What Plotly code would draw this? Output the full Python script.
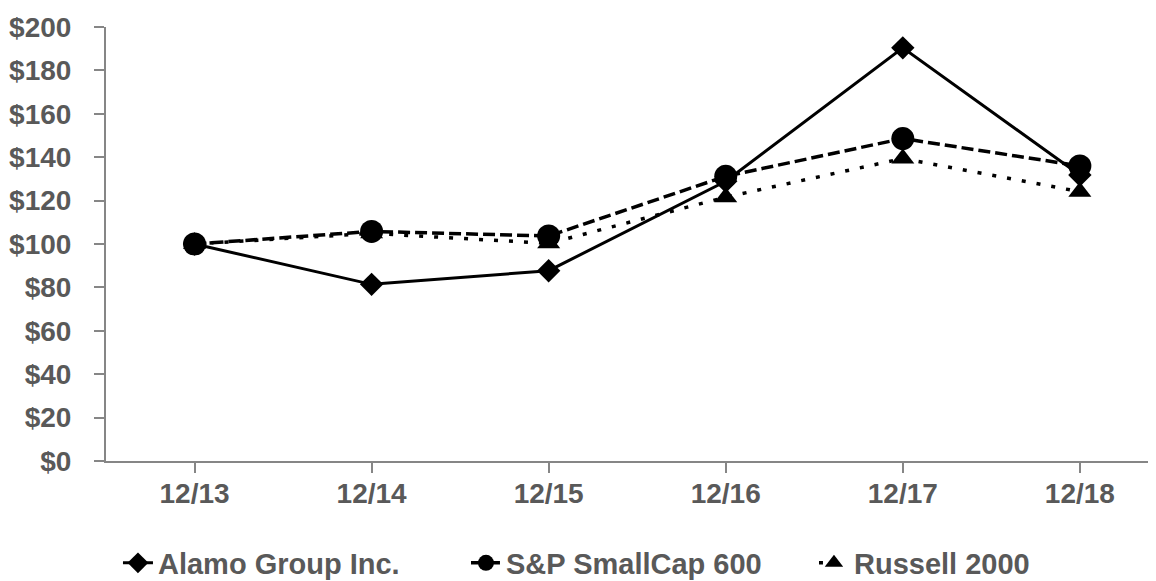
import plotly.graph_objects as go

categories = ["12/13", "12/14", "12/15", "12/16", "12/17", "12/18"]
alamo = [100, 81.4, 87.7, 128.9, 190.4, 131.8]
sp600 = [100, 105.8, 103.7, 131.2, 148.6, 136.0]
russell = [100, 104.9, 100.3, 121.6, 139.4, 124.1]
y_ticks = [0, 20, 40, 60, 80, 100, 120, 140, 160, 180, 200]
y_labels = ["$" + str(v) for v in y_ticks]

FONT = "Liberation Sans, Arial, sans-serif"
TXT = "#595959"
AX = "#868686"

fig = go.Figure()
fig.add_trace(go.Scatter(
    x=categories, y=alamo, name="Alamo Group Inc.", mode="lines+markers",
    line=dict(color="black", width=3),
    marker=dict(symbol="diamond", size=18, color="black"),
))
fig.add_trace(go.Scatter(
    x=categories, y=sp600, name="S&P SmallCap 600", mode="lines+markers",
    line=dict(color="black", width=3.5, dash="12px,5px"),
    marker=dict(symbol="circle", size=23, color="black"),
))
fig.add_trace(go.Scatter(
    x=categories, y=russell, name="Russell 2000", mode="lines+markers",
    line=dict(color="black", width=3.5, dash="4px,11px"),
    marker=dict(symbol="triangle-up", size=20, color="black"),
))

fig.update_layout(
    width=1156, height=581,
    margin=dict(l=98, r=8, t=19, b=128, autoexpand=False),
    plot_bgcolor="white", paper_bgcolor="white",
    font=dict(family=FONT, size=28, color=TXT),
    showlegend=True,
    legend=dict(
        orientation="h", x=0.0114, xanchor="left",
        y=-0.235, yanchor="middle",
        font=dict(family=FONT, size=29, color=TXT, weight="bold"),
        entrywidth=303, itemwidth=30,
    ),
    xaxis=dict(
        type="category", range=[-0.5, 5.43], automargin=False,
        showline=True, linecolor=AX, linewidth=2,
        ticks="outside", ticklen=10, tickcolor=AX, tickwidth=2,
        showgrid=False, zeroline=False, ticklabelstandoff=-4,
        tickfont=dict(family=FONT, size=28, color=TXT, weight="bold"),
    ),
    yaxis=dict(
        range=[0, 200], tickvals=y_ticks, ticktext=y_labels, automargin=False,
        showline=True, linecolor=AX, linewidth=2,
        ticks="outside", ticklen=10, tickcolor=AX, tickwidth=2,
        showgrid=False, zeroline=False, ticklabelstandoff=17,
        tickfont=dict(family=FONT, size=28, color=TXT, weight="bold"),
    ),
)

fig.write_html("out.html")
